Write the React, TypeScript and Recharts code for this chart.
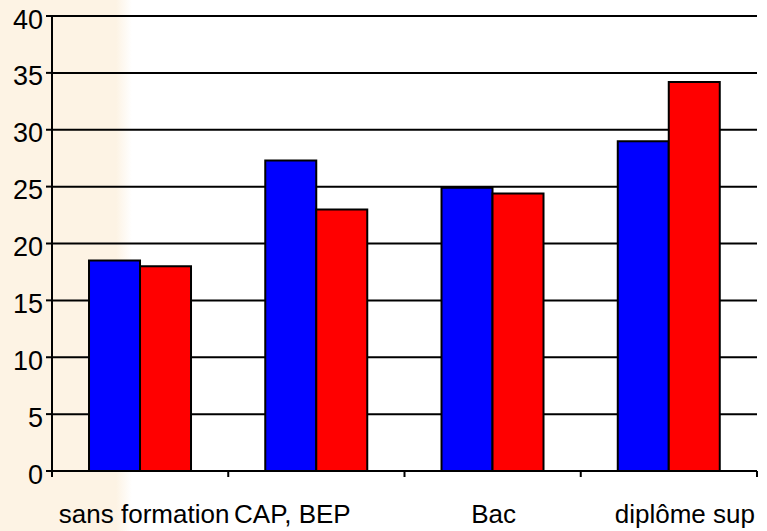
import React from "react";
import { BarChart, Bar, XAxis, YAxis, CartesianGrid } from "recharts";

const categories = ["sans formation", "CAP, BEP", "Bac", "diplôme sup"];
const blueValues = [18.5, 27.3, 24.9, 29.0];
const redValues = [18.0, 23.0, 24.4, 34.2];
const yTicks = [0, 5, 10, 15, 20, 25, 30, 35, 40];

const data = categories.map((c, i) => ({ name: c, blue: blueValues[i], red: redValues[i] }));

const FONT = "'Liberation Sans', Arial, sans-serif";
const X_FONT_SIZE = 26;
const Y_FONT_SIZE = 27;
const TICK_SIZE = 6;
const TICK_MARGIN = 28;
// small per-label horizontal nudges (styling only), mimicking the original layout
const LABEL_NUDGE = [4, -24, 1, 16];

const XTick = (props: any) => {
  const { x, y, payload, index, visibleTicksCount, width } = props;
  const half =
    payload && typeof payload.offset === "number" && payload.offset > 0
      ? payload.offset
      : width / visibleTicksCount / 2;
  const axisY = y - TICK_SIZE - TICK_MARGIN;
  return (
    <g>
      <line x1={x - half} x2={x - half} y1={axisY} y2={axisY + TICK_SIZE} stroke="#000" strokeWidth={2} />
      {index === visibleTicksCount - 1 && (
        <line x1={x + half} x2={x + half} y1={axisY} y2={axisY + TICK_SIZE} stroke="#000" strokeWidth={2} />
      )}
      <text
        x={x + (LABEL_NUDGE[index] || 0)}
        y={y}
        dy="0.71em"
        textAnchor="middle"
        fill="#000"
        fontSize={X_FONT_SIZE}
        fontFamily={FONT}
      >
        {payload.value}
      </text>
    </g>
  );
};

export default function App() {
  return (
    <div
      style={{
        width: 767,
        height: 531,
        background: "linear-gradient(to right, #FDF3E4 0px, #FDF3E4 116px, #FFFFFF 132px)",
      }}
    >
      <style>{`body{margin:0}`}</style>
      <BarChart
        width={767}
        height={531}
        data={data}
        margin={{ top: 16, right: 10, left: 0, bottom: 0 }}
        barCategoryGap="21%"
        barGap={0}
      >
        <CartesianGrid vertical={false} stroke="#000" strokeWidth={2} />
        <XAxis
          dataKey="name"
          height={60}
          axisLine={{ stroke: "#000", strokeWidth: 2 }}
          tickLine={false}
          tickSize={TICK_SIZE}
          tickMargin={TICK_MARGIN}
          interval={0}
          tick={<XTick />}
        />
        <YAxis
          width={52}
          domain={[0, 40]}
          ticks={yTicks}
          interval={0}
          axisLine={{ stroke: "#000", strokeWidth: 2 }}
          tickLine={{ stroke: "#000", strokeWidth: 2 }}
          tickSize={TICK_SIZE}
          tickMargin={3}
          tick={{ fill: "#000", fontSize: Y_FONT_SIZE, fontFamily: FONT, dy: 3 }}
        />
        <Bar dataKey="blue" fill="#0000FF" stroke="#000" strokeWidth={2} isAnimationActive={false} />
        <Bar dataKey="red" fill="#FF0000" stroke="#000" strokeWidth={2} isAnimationActive={false} />
      </BarChart>
    </div>
  );
}
